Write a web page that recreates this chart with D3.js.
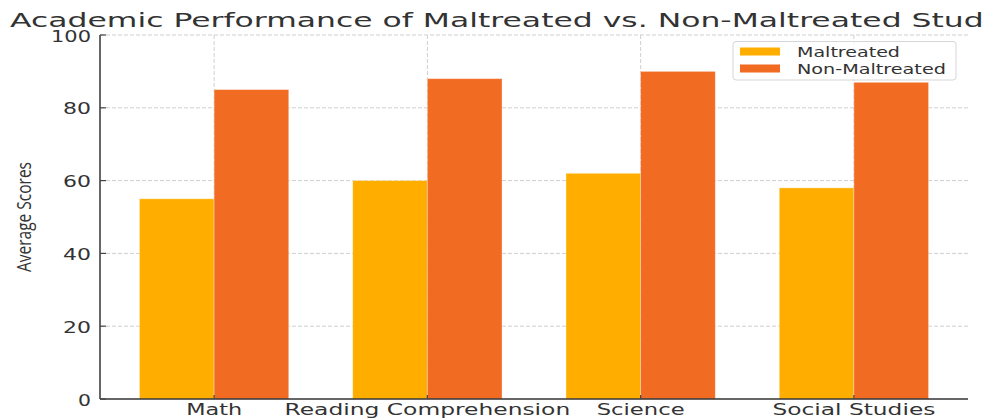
<!DOCTYPE html>
<html>
<head>
<meta charset="utf-8">
<script src="https://cdn.jsdelivr.net/npm/d3@7"></script>
<style>
  html, body { margin: 0; padding: 0; background: #fff; }
  svg { display: block; }
  text { font-family: "DejaVu Sans", sans-serif; fill: #333; }
</style>
</head>
<body>
<svg id="chart" width="989" height="418"></svg>
<script>
const categories = ["Math", "Reading Comprehension", "Science", "Social Studies"];
const maltreated = [55, 60, 62, 58];
const nonMaltreated = [85, 88, 90, 87];
const yTicks = [0, 20, 40, 60, 80, 100];
const seriesNames = ["Maltreated", "Non-Maltreated"];
const colors = ["#FFAE00", "#F26B23"];

(function () {
const svg = d3.select("#chart");
const pL = 100, pR = 968, pT = 35, pB = 399;
const barW = 0.35;

const x = d3.scaleLinear().domain([-0.535, 3.535]).range([pL, pR]);
const y = d3.scaleLinear().domain([0, 100]).range([pB, pT]);

svg.append("defs").append("clipPath").attr("id", "titleClip")
  .append("rect").attr("x", 0).attr("y", 0).attr("width", 985).attr("height", 40);

// stretch helper: scale text horizontally to a target width
function stretch(sel, cx, cy, target, n) {
  const node = sel.node();
  const len = n ? node.getSubStringLength(0, n) : node.getComputedTextLength();
  const sx = target / len;
  sel.attr("x", 0).attr("y", 0).attr("transform", `translate(${cx},${cy}) scale(${sx},1)`);
}

// grid
const g = svg.append("g");
g.selectAll("line.hg").data(yTicks.filter(d => d > 0)).join("line")
  .attr("x1", pL).attr("x2", pR)
  .attr("y1", d => y(d)).attr("y2", d => y(d))
  .attr("stroke", "#cfcfcf").attr("stroke-width", 1).attr("stroke-dasharray", "4,2");
g.selectAll("line.vg").data(categories).join("line")
  .attr("x1", (d, i) => x(i)).attr("x2", (d, i) => x(i))
  .attr("y1", pT).attr("y2", pB)
  .attr("stroke", "#cfcfcf").attr("stroke-width", 1).attr("stroke-dasharray", "4,2");

// bars
const seriesVals = [maltreated, nonMaltreated];
seriesVals.forEach((vals, s) => {
  svg.append("g").selectAll("rect").data(vals).join("rect")
    .attr("x", (d, i) => x(i + (s === 0 ? -barW : 0)))
    .attr("width", (d, i) => x(i + barW) - x(i))
    .attr("y", d => y(d))
    .attr("height", d => y(0) - y(d))
    .attr("fill", colors[s])
    .attr("stroke", "rgba(255,255,255,0.4)").attr("stroke-width", 0.8);
});

// axes lines
svg.append("line").attr("x1", pL).attr("x2", pL).attr("y1", pT).attr("y2", pB)
  .attr("stroke", "#333").attr("stroke-width", 1.5);
svg.append("line").attr("x1", pL).attr("x2", pR).attr("y1", pB).attr("y2", pB)
  .attr("stroke", "#333").attr("stroke-width", 1.5);

// y ticks
yTicks.forEach(t => {
  svg.append("line").attr("x1", pL).attr("x2", pL + 6).attr("y1", y(t)).attr("y2", y(t))
    .attr("stroke", "#444").attr("stroke-width", 1.2);
  const tx = svg.append("text").text(t).attr("font-size", 16)
    .attr("text-anchor", "end").attr("dominant-baseline", "central");
  const w = { "0": 13, "20": 28, "40": 28, "60": 28, "80": 28, "100": 40 }[String(t)];
  stretch(tx, 91, y(t) + 1, w);
});

// x ticks
const xLabelW = [56, 286, 88, 163];
categories.forEach((c, i) => {
  svg.append("line").attr("x1", x(i)).attr("x2", x(i)).attr("y1", pB).attr("y2", pB - 4)
    .attr("stroke", "#444").attr("stroke-width", 1.2);
  const tx = svg.append("text").text(c).attr("font-size", 16).attr("text-anchor", "middle");
  stretch(tx, x(i), 415, xLabelW[i]);
});

// y label
svg.append("text").text("Average Scores")
  .style("font-family", "'Open Sans', sans-serif").attr("font-size", 14)
  .attr("text-anchor", "middle")
  .attr("textLength", 110).attr("lengthAdjust", "spacingAndGlyphs")
  .attr("transform", "translate(31,217) scale(1.45,1) rotate(-90)");

// title
const title = svg.append("text").text("Academic Performance of Maltreated vs. Non-Maltreated Students")
  .attr("font-size", 19).attr("text-anchor", "start").attr("clip-path", null);
stretch(title, 10, 27, 974, "Academic Performance of Maltreated vs. Non-Maltreated Stud".length);
const tg = svg.append("g").attr("clip-path", "url(#titleClip)");
tg.node().appendChild(title.node());

// legend
const lg = svg.append("g");
lg.append("rect").attr("x", 733).attr("y", 41.5).attr("width", 223).attr("height", 38.5)
  .attr("rx", 3).attr("fill", "rgba(255,255,255,0.8)").attr("stroke", "#d6d6d6").attr("stroke-width", 1);
const legW = [103, 149];
seriesNames.forEach((n, s) => {
  lg.append("rect").attr("x", 740).attr("y", 47.5 + s * 17).attr("width", 40).attr("height", 8)
    .attr("fill", colors[s]);
  const tx = lg.append("text").text(n).attr("font-size", 14.5);
  stretch(tx, 797, 56.5 + s * 17, legW[s]);
});
})();
</script>
</body>
</html>
